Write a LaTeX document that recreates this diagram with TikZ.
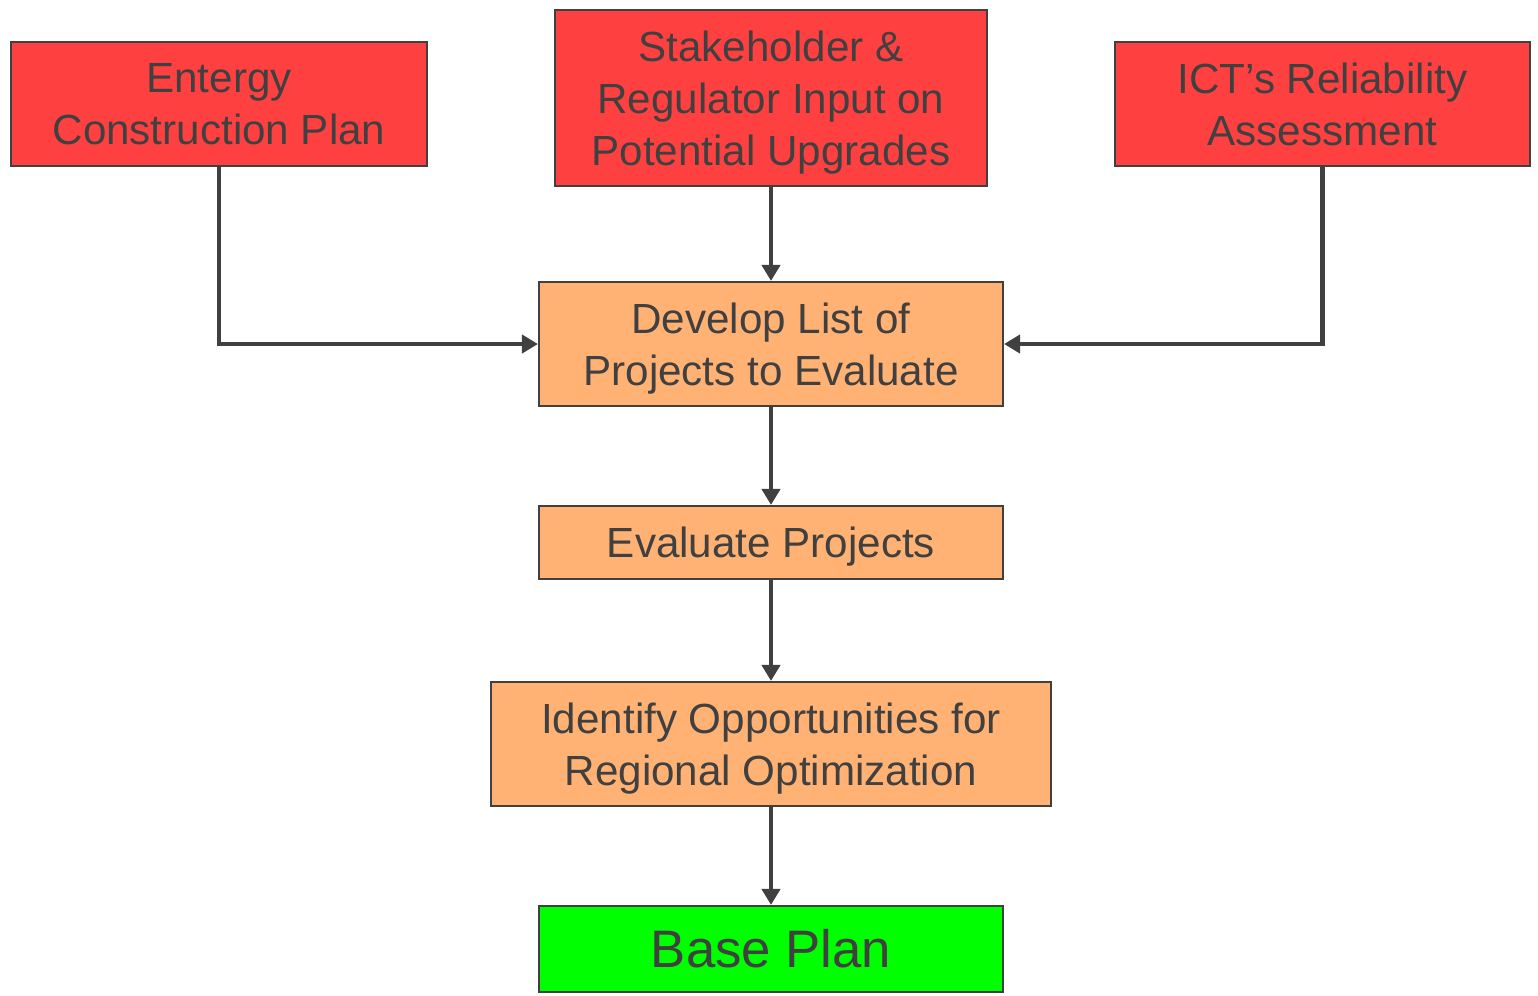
\documentclass[tikz,border=0pt]{standalone}
\usepackage{fontspec}
\setmainfont{Liberation Sans}
\usepackage{xcolor}
\usetikzlibrary{arrows.meta}
\usetikzlibrary{positioning}

\definecolor{boxred}{HTML}{FF4040}
\definecolor{boxorange}{HTML}{FFB273}
\definecolor{boxgreen}{HTML}{00FF00}
\definecolor{edgegray}{HTML}{404040}

\tikzset{
    box/.style={draw=edgegray, line width=0.6pt, text=edgegray, align=center, inner sep=0pt,
        font=\fontsize{12}{14.8}\selectfont},
    source/.style={box, fill=boxred, text depth=0pt},
    task/.style={box, fill=boxorange, text depth=0pt},
    result/.style={box, fill=boxgreen, font=\fontsize{15}{18}\selectfont},
    flow/.style={-{Triangle[length=0.16cm, width=0.18cm]}, line width=1.15pt, draw=edgegray}
}

\begin{document}
\begin{tikzpicture}
            \useasboundingbox(0, 0) rectangle (15.38, -9.95);

            \node[source, minimum width=4.16cm, minimum height=1.24cm](entergy) at (2.19, -1.04){Entergy\\Construction Plan};
            \node[source, minimum width=4.32cm, minimum height=1.76cm](stake) at (7.71, -0.98){Stakeholder \&\\Regulator Input on\\Potential Upgrades};
            \node[source, minimum width=4.15cm, minimum height=1.24cm](ict) at (13.225, -1.04){ICT’s Reliability\\Assessment};

            \node[task, minimum width=4.64cm, minimum height=1.24cm](develop) at (7.71, -3.44){Develop List of\\Projects to Evaluate};
            \node[task, minimum width=4.64cm, minimum height=0.73cm](evaluate) at (7.71, -5.425){Evaluate Projects};
            \node[task, minimum width=5.60cm, minimum height=1.24cm](identify) at (7.71, -7.44){Identify Opportunities for\\Regional Optimization};
            \node[result, minimum width=4.64cm, minimum height=0.86cm](base) at (7.71, -9.49){Base Plan};

            \draw[flow](entergy.south)|-(develop.west);
            \draw[flow](ict.south)|-(develop.east);
            \draw[flow](stake.south)--(develop.north);
            \draw[flow](develop.south)--(evaluate.north);
            \draw[flow](evaluate.south)--(identify.north);
            \draw[flow](identify.south)--(base.north);
        \end{tikzpicture}
\end{document}
